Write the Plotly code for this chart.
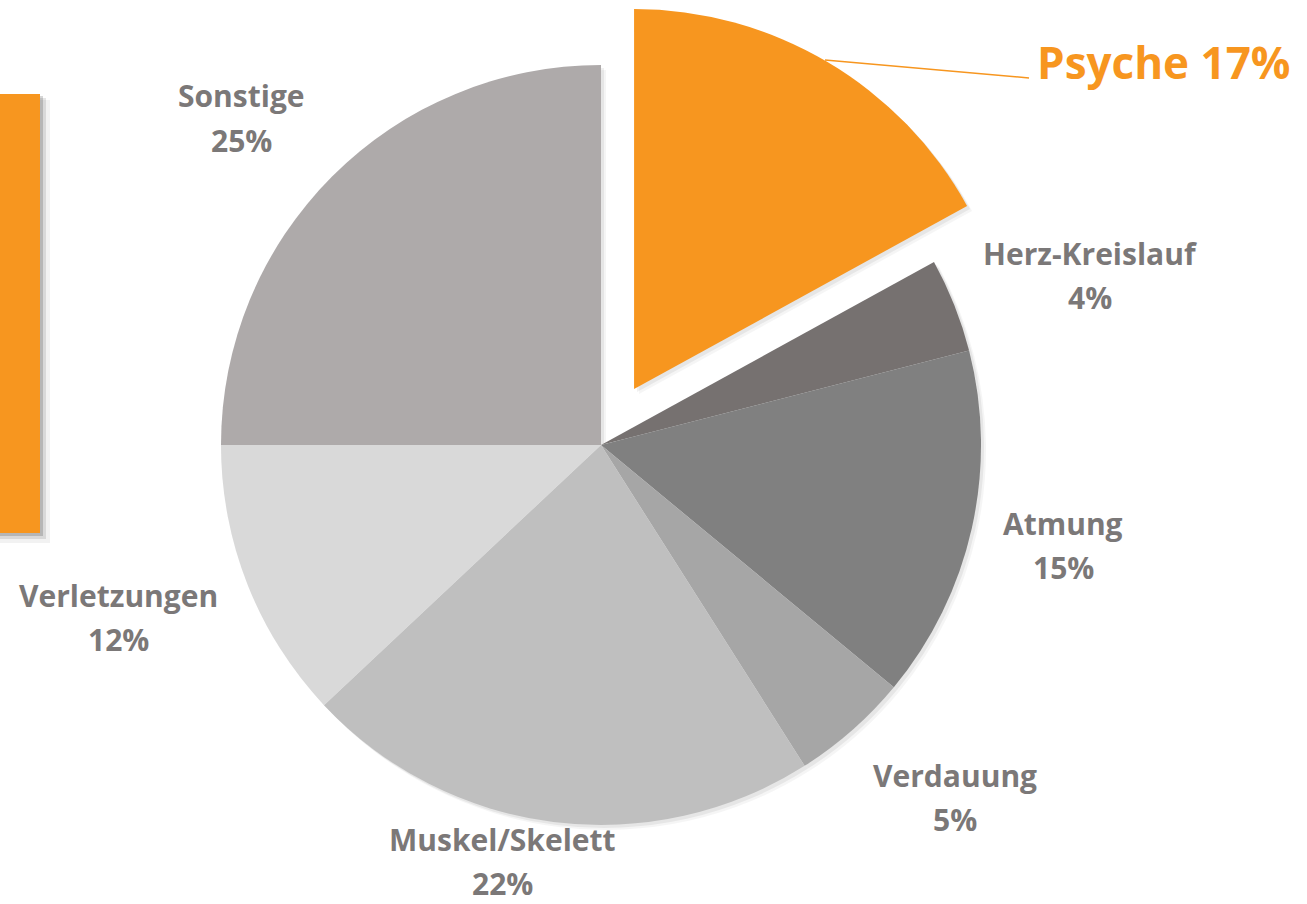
import plotly.graph_objects as go

# ---- data ----
categories = ["Psyche", "Herz-Kreislauf", "Atmung", "Verdauung", "Muskel/Skelett", "Verletzungen", "Sonstige"]
values = [17, 4, 15, 5, 22, 12, 25]

# ---- styles ----
slice_colors = ["#F7961F", "#767170", "#808080", "#A6A6A6", "#BFBFBF", "#D9D9D9", "#AEAAAA"]
pulls = [0.171, 0, 0, 0, 0, 0, 0]
GRAY = "#7B7878"
ORANGE = "#F7961F"
FONT = "Open Sans"

W, H = 1307, 904

# label block centres in pixels (layout only)
label_pos = {
    "Sonstige": (241, 118),
    "Herz-Kreislauf": (1090, 275),
    "Atmung": (1063, 545),
    "Verdauung": (955, 797),
    "Muskel/Skelett": (502, 861),
    "Verletzungen": (118, 617),
}
line_gap = 22

def px(x):
    return x / W

def py(y):
    return 1 - y / H

fig = go.Figure()

# soft drop shadow layers behind the pie
for off, alpha in [(5, 0.04), (3, 0.06)]:
    fig.add_trace(go.Pie(
        labels=categories, values=values, sort=False, direction="clockwise",
        rotation=0, pull=pulls,
        marker=dict(colors=[f"rgba(0,0,0,{alpha})"] * len(values), line=dict(width=0)),
        textinfo="none", hoverinfo="skip", showlegend=False,
        domain=dict(x=[px(156 + off), px(1046 + off)], y=[py(890 + off), py(off)]),
    ))

fig.add_trace(go.Pie(
    labels=categories,
    values=values,
    sort=False,
    direction="clockwise",
    rotation=0,
    pull=pulls,
    marker=dict(colors=slice_colors, line=dict(width=0)),
    textinfo="none",
    hoverinfo="label+percent",
    showlegend=False,
    domain=dict(x=[px(156), px(1046)], y=[py(890), 1.0]),
))

annotations = []
total = sum(values)
for cat, val in zip(categories, values):
    pct = f"{round(100 * val / total)}%"
    if cat == "Psyche":
        annotations.append(dict(
            x=px(1163), y=py(62), xref="paper", yref="paper",
            text=f"<b>{cat} {pct}</b>", showarrow=False,
            xanchor="center", yanchor="middle",
            font=dict(family=FONT, size=44, color=ORANGE),
        ))
        continue
    cx, cy = label_pos[cat]
    annotations.append(dict(
        x=px(cx), y=py(cy - line_gap), xref="paper", yref="paper",
        text=f"<b>{cat}</b>", showarrow=False,
        xanchor="center", yanchor="middle",
        font=dict(family=FONT, size=30, color=GRAY),
    ))
    annotations.append(dict(
        x=px(cx), y=py(cy + line_gap), xref="paper", yref="paper",
        text=f"<b>{pct}</b>", showarrow=False,
        xanchor="center", yanchor="middle",
        font=dict(family=FONT, size=30, color=GRAY),
    ))

shapes = [
    # soft shadow for orange bar
    dict(type="rect", xref="paper", yref="paper", x0=0, x1=px(50), y0=py(543), y1=py(100),
         fillcolor="rgba(0,0,0,0.05)", line=dict(width=0), layer="below"),
    dict(type="rect", xref="paper", yref="paper", x0=0, x1=px(46), y0=py(539), y1=py(98),
         fillcolor="rgba(0,0,0,0.10)", line=dict(width=0), layer="below"),
    dict(type="rect", xref="paper", yref="paper", x0=0, x1=px(43), y0=py(536), y1=py(96),
         fillcolor="rgba(0,0,0,0.16)", line=dict(width=0), layer="below"),
    # orange bar
    dict(type="rect", xref="paper", yref="paper", x0=0, x1=px(40), y0=py(533), y1=py(94),
         fillcolor=ORANGE, line=dict(width=0), layer="below"),
    # leader line for Psyche
    dict(type="line", xref="paper", yref="paper", x0=px(825), y0=py(60), x1=px(1029), y1=py(78),
         line=dict(color=ORANGE, width=1.5)),
]

fig.update_layout(
    width=W, height=H,
    margin=dict(l=0, r=0, t=0, b=0),
    paper_bgcolor="white",
    plot_bgcolor="white",
    annotations=annotations,
    shapes=shapes,
)

fig.write_html("out.html", config={"displayModeBar": False},
               post_script="document.body.style.margin='0';")
